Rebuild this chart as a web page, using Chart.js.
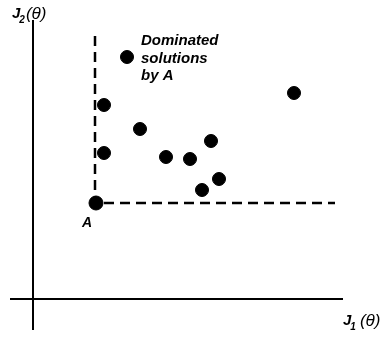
<!DOCTYPE html>
<html>
<head>
<meta charset="utf-8">
<script src="https://cdn.jsdelivr.net/npm/chart.js@4"></script>
<style>
  html, body { margin:0; padding:0; background:#fff; }
  #wrap { width:381px; height:338px; }
</style>
</head>
<body>
<div id="wrap"><canvas id="chart" width="381" height="338"></canvas></div>
<script>
// Решения (J1, J2)
const solJ1 = [9.4, 7.1, 7.1, 10.7, 13.3, 15.7, 17.8, 16.9, 18.6, 26.1];
const solJ2 = [24.2, 19.4, 14.6, 17.0, 14.2, 14.0, 15.8, 10.9, 12.0, 20.6];

// Точка A
const pointA = { x: 6.3, y: 9.6 };

// Оси и границы доминирования
const axisJ1 = [-2.3, 31.0];
const axisJ2 = [-3.1, 27.9];
const domTop = 26.3;
const domRight = 30.2;

const labelText = ["Dominated", "solutions", "by A"];

const points = solJ1.map((x, i) => ({ x: x, y: solJ2[i] }));

// Подписи поверх графика
const labels = {
  id: 'labels',
  afterDraw(chart) {
    const ctx = chart.ctx;
    const xs = chart.scales.x, ys = chart.scales.y;
    ctx.save();
    ctx.fillStyle = '#000';
    ctx.textBaseline = 'alphabetic';

    // Dominated solutions by A
    ctx.font = 'italic bold 15px "Liberation Sans", Arial, sans-serif';
    let tx = xs.getPixelForValue(10.8);
    let ty = ys.getPixelForValue(25.4);
    labelText.forEach((t, i) => ctx.fillText(t, tx, ty + i * 17.5));

    // A
    ctx.font = 'italic bold 14px "Liberation Sans", Arial, sans-serif';
    ctx.fillText('A', xs.getPixelForValue(4.9), ys.getPixelForValue(7.2));

    // J2(θ), J1 (θ)
    function jLabel(x, y, sub, gap) {
      ctx.font = 'italic bold 15px "Liberation Sans", Arial, sans-serif';
      ctx.fillText('J', x, y);
      let w = ctx.measureText('J').width;
      ctx.font = 'italic bold 10px "Liberation Sans", Arial, sans-serif';
      ctx.fillText(sub, x + w - 1, y + 5);
      let w2 = ctx.measureText(sub).width;
      ctx.font = 'italic 17px "Liberation Sans", Arial, sans-serif';
      ctx.fillText('(θ)', x + w + w2 + gap, y + 1);
    }
    jLabel(xs.getPixelForValue(-2.1), ys.getPixelForValue(28.1), '2', 0);
    jLabel(xs.getPixelForValue(31.0), ys.getPixelForValue(-2.6), '1', 3);
    ctx.restore();
  }
};

new Chart(document.getElementById('chart'), {
  type: 'scatter',
  data: {
    datasets: [
      {
        data: [{ x: axisJ1[0], y: 0 }, { x: axisJ1[1], y: 0 }],
        showLine: true, borderColor: '#000', borderWidth: 2, pointRadius: 0
      },
      {
        data: [{ x: 0, y: axisJ2[0] }, { x: 0, y: axisJ2[1] }],
        showLine: true, borderColor: '#000', borderWidth: 2, pointRadius: 0
      },
      {
        data: [{ x: pointA.x - 0.1, y: domTop }, { x: pointA.x - 0.1, y: pointA.y }, { x: domRight, y: pointA.y }],
        showLine: true, borderColor: '#000', borderWidth: 2.5, borderDash: [10, 6], pointRadius: 0
      },
      {
        data: points,
        backgroundColor: '#000', borderColor: '#000', pointRadius: 6.5
      },
      {
        data: [pointA],
        backgroundColor: '#000', borderColor: '#000', pointRadius: 7
      }
    ]
  },
  options: {
    responsive: false,
    animation: false,
    layout: { padding: 0, autoPadding: false },
    plugins: { legend: { display: false }, tooltip: { enabled: false } },
    scales: {
      x: { type: 'linear', display: false, min: -3.3, max: 34.8 },
      y: { type: 'linear', display: false, min: -3.9, max: 29.9 }
    }
  },
  plugins: [labels]
});
</script>
</body>
</html>
